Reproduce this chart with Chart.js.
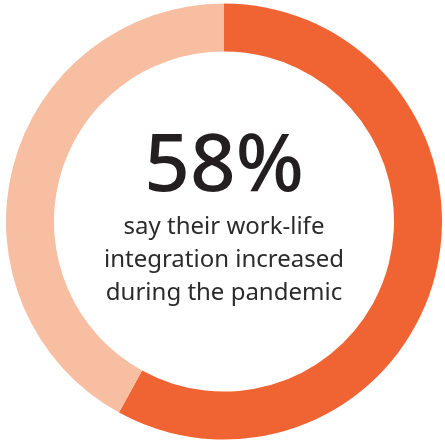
<!DOCTYPE html>
<html>
<head>
<meta charset="utf-8">
<script src="https://cdn.jsdelivr.net/npm/chart.js@4"></script>
<style>
  html, body { margin: 0; padding: 0; background: #fff; }
  #wrap { width: 445px; height: 441px; position: relative; }
</style>
</head>
<body>
<div id="wrap"><canvas id="donut"></canvas></div>
<script>
const labels = ['Increased', 'Other'];
const values = [58, 42];
const colors = ['#F06434', '#F8BEA1'];
const headline = '58%';
const caption = ['say their work-life', 'integration increased', 'during the pandemic'];

// centre text drawn on top of the ring
const centerText = {
    id: 'centerText',
    afterDraw: function(chart) {
        const ctx = chart.ctx;
        const meta = chart.getDatasetMeta(0).data[0];
        const cx = meta.x, cy = meta.y;
        ctx.save();
        ctx.fillStyle = '#231f20';
        ctx.textAlign = 'center';
        ctx.textBaseline = 'alphabetic';
        ctx.font = '500 80px "Noto Sans", sans-serif';
        ctx.fillText(headline, cx, cy - 31);
        ctx.fillStyle = '#2b2b2b';
        ctx.font = '400 24px "Noto Sans", sans-serif';
        caption.forEach(function(line, i) {
            ctx.fillText(line, cx, cy + 12 + i * 33);
        });
        ctx.restore();
    }
};

new Chart(document.getElementById('donut'), {
    type: 'doughnut',
    data: {
        labels: labels,
        datasets: [{
            data: values,
            backgroundColor: colors,
            borderWidth: 0
        }]
    },
    options: {
        responsive: true,
        maintainAspectRatio: false,
        animation: false,
        cutout: '78%',
        layout: { padding: { top: 3, bottom: 1, left: 6, right: 3 } },
        plugins: {
            legend: { display: false },
            tooltip: { enabled: false }
        }
    },
    plugins: [centerText]
});
</script>
</body>
</html>
